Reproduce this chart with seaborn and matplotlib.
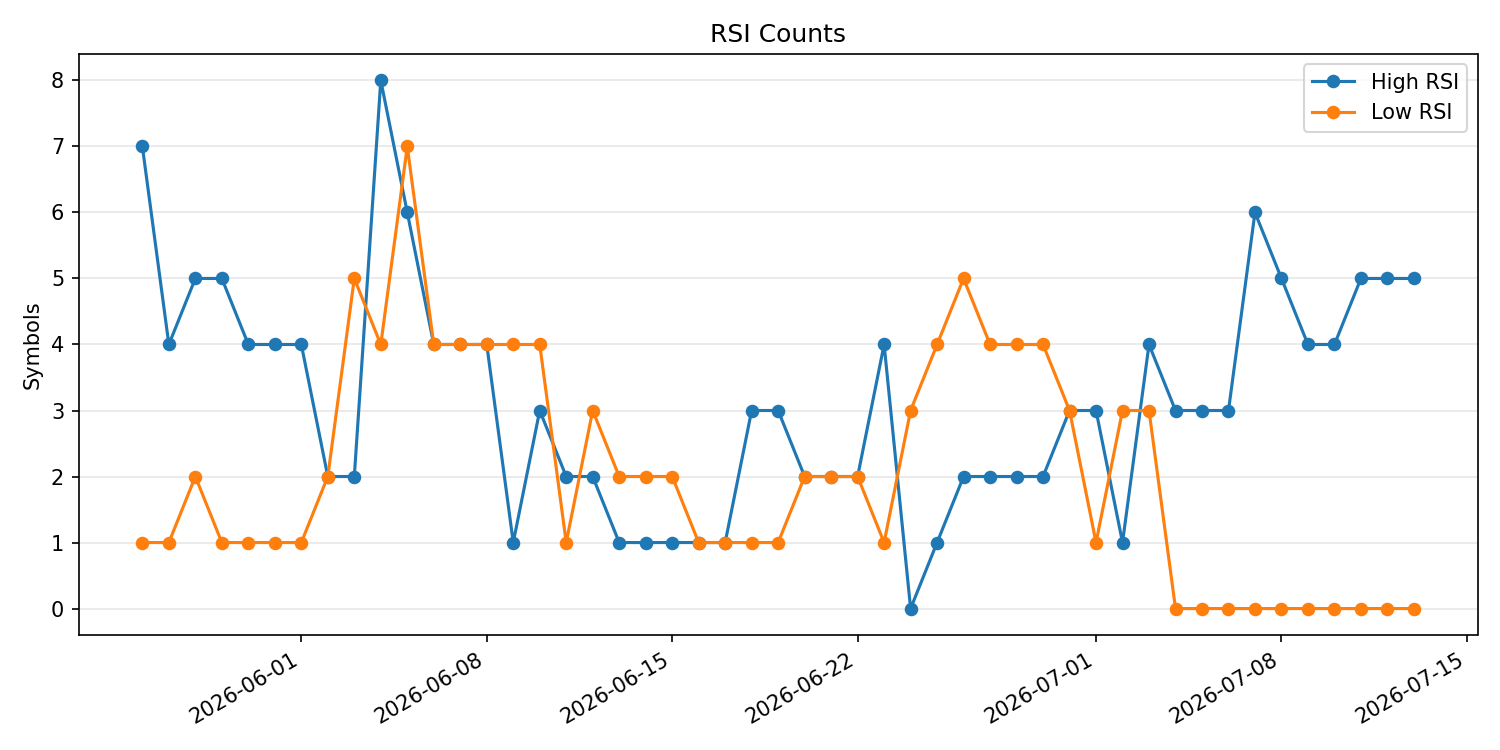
import matplotlib
matplotlib.use("Agg")
import matplotlib.pyplot as plt
import seaborn as sns
import pandas as pd

dates = pd.date_range("2026-05-26", "2026-07-13", freq="D")

high_rsi = [7, 4, 5, 5, 4, 4, 4, 2, 2, 8, 6, 4, 4, 4, 1, 3, 2, 2, 1, 1, 1, 1, 1, 3, 3,
            2, 2, 2, 4, 0, 1, 2, 2, 2, 2, 3, 3, 1, 4, 3, 3, 3, 6, 5, 4, 4, 5, 5, 5]
low_rsi = [1, 1, 2, 1, 1, 1, 1, 2, 5, 4, 7, 4, 4, 4, 4, 4, 1, 3, 2, 2, 2, 1, 1, 1, 1,
           2, 2, 2, 1, 3, 4, 5, 4, 4, 4, 3, 1, 3, 3, 0, 0, 0, 0, 0, 0, 0, 0, 0, 0]

series_names = ["High RSI", "Low RSI"]

df = pd.DataFrame({"date": dates, "High RSI": high_rsi, "Low RSI": low_rsi})
long = df.melt(id_vars="date", var_name="series", value_name="count")

fig, ax = plt.subplots(figsize=(10, 5), dpi=150)
sns.lineplot(data=long, x="date", y="count", hue="series", hue_order=series_names,
             palette=["#1f77b4", "#ff7f0e"], marker="o", markersize=6.5,
             markeredgewidth=0, linewidth=1.5, ax=ax)

handles, labels = ax.get_legend_handles_labels()
ax.legend(handles, labels, loc="upper right")
ax.set_title("RSI Counts")
ax.set_ylabel("Symbols")
ax.set_xlabel("")
ax.grid(axis="y", alpha=0.3)
ax.set_axisbelow(True)
fig.autofmt_xdate()
fig.tight_layout()
fig.savefig("out.png", dpi=150)
